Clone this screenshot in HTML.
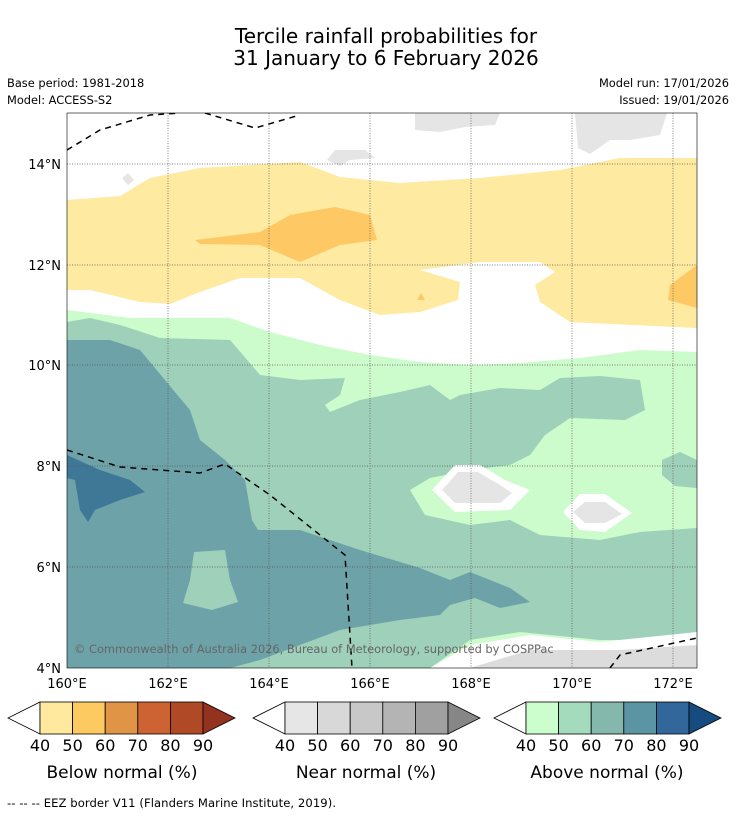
<!DOCTYPE html>
<html><head><meta charset="utf-8"><style>
body{margin:0;background:#fff;font-family:"Liberation Sans","DejaVu Sans",sans-serif}
svg{display:block}
text{font-family:"DejaVu Sans","Liberation Sans",sans-serif}
</style></head><body>
<svg width="736" height="816" viewBox="0 0 736 816">
<text x="386" y="43" font-size="20" text-anchor="middle">Tercile rainfall probabilities for</text>
<text x="386" y="65" font-size="20" text-anchor="middle">31 January to 6 February 2026</text>
<text x="7" y="87" font-size="11.4">Base period: 1981-2018</text>
<text x="7" y="104" font-size="11.4">Model: ACCESS-S2</text>
<text x="729" y="87" font-size="11.4" text-anchor="end">Model run: 17/01/2026</text>
<text x="729" y="104" font-size="11.4" text-anchor="end">Issued: 19/01/2026</text>

<defs><clipPath id="mc"><rect x="67" y="113" width="630" height="555"/></clipPath></defs>
<g clip-path="url(#mc)">
<rect x="67" y="113" width="630" height="555" fill="#fff"/>
<path fill="#feeaa0" d="M67,200 L120,196 L150,178 L200,168 L300,162 L340,177 L400,183 L480,178 L560,170 L620,158 L697,158 L697,328 L570,322 L540,302 L535,285 L555,272 L540,262 L480,262 L420,270 L460,282 L458,300 L420,312 L380,315 L340,300 L300,278 L240,278 L200,292 L170,304 L140,302 L115,296 L90,290 L67,290 Z"/>
<path fill="#fec964" d="M195,240 L260,232 L290,215 L335,207 L370,215 L377,240 L340,245 L300,262 L260,245 L200,244 Z M697,265 L670,285 L668,300 L697,308 Z M417,300 L421,293 L425,300 Z"/>
<path fill="#ccfccb" d="M67,310 L130,318 L230,318 L270,332 L320,345 L370,355 L420,362 L470,365 L520,363 L580,358 L640,350 L697,352 L697,668 L67,668 Z"/>
<path fill="#9ed0ba" d="M67,322 L90,318 L120,325 L160,338 L230,340 L260,375 L300,380 L345,378 L340,395 L325,405 L330,412 L360,400 L400,392 L430,385 L450,400 L460,395 L500,388 L540,390 L560,378 L600,376 L640,380 L645,410 L625,420 L570,418 L545,435 L530,455 L510,465 L470,470 L430,478 L410,490 L425,515 L470,525 L510,520 L540,535 L600,540 L640,532 L697,528 L697,640 L600,640 L520,632 L470,640 L430,668 L67,668 Z M662,460 L680,452 L697,460 L697,488 L675,486 L662,475 Z"/>
<path fill="#6da3a8" d="M67,340 L110,340 L140,350 L165,380 L190,410 L200,440 L225,460 L245,480 L252,520 L258,530 L300,530 L360,550 L420,568 L450,580 L470,572 L510,588 L530,602 L500,608 L475,598 L450,605 L440,615 L400,620 L340,630 L300,645 L260,660 L230,668 L67,668 Z"/>
<path fill="#9ed0ba" d="M194,552 L225,550 L230,580 L238,602 L212,610 L183,603 L190,580 Z"/>
<path fill="#3e7896" d="M67,455 L100,470 L130,480 L145,492 L120,500 L95,510 L88,522 L80,510 L75,480 L67,478 Z"/>
<path fill="#fff" d="M432,490 L455,465 L480,465 L505,480 L530,490 L510,510 L455,512 Z"/>
<path fill="#e5e5e5" d="M442,490 L458,472 L478,472 L500,485 L512,493 L500,503 L455,503 Z"/>
<path fill="#fff" d="M563,512 L580,494 L605,494 L632,513 L605,532 L580,530 Z"/>
<path fill="#e5e5e5" d="M573,512 L585,502 L605,502 L622,514 L605,523 L585,523 Z"/>
<path fill="#e5e5e5" d="M415,113 L500,113 L495,125 L465,127 L440,132 L415,130 Z"/>
<path fill="#e5e5e5" d="M575,113 L667,113 L660,135 L630,140 L610,140 L590,154 L578,148 Z"/>
<path fill="#e5e5e5" d="M327,160 L335,150 L365,150 L375,158 L350,160 L340,166 Z M122,178 L128,173 L134,180 L128,185 Z"/>
<path fill="#fff" d="M430,668 L470,645 L530,635 L600,642 L697,632 L697,668 Z"/>
<path fill="#dcdcdc" d="M470,668 L530,650 L620,650 L697,645 L697,668 Z"/>
<g stroke="#555" stroke-width="0.7" stroke-dasharray="1,1.5" fill="none">
<path d="M168,113V668M269,113V668M370,113V668M471,113V668M572,113V668M673,113V668"/>
<path d="M67,164H697M67,265H697M67,365H697M67,466H697M67,567H697"/>
</g>
<g stroke="#000" stroke-width="1.5" stroke-dasharray="6,5" fill="none">
<path d="M67,150 L100,130 L150,115 L180,113"/>
<path d="M205,113 L255,128 L300,115"/>
<path d="M67,450 L120,467 L200,473 L225,464 L270,495 L345,555 L352,668"/>
<path d="M610,668 L620,655 L697,638"/>
</g>
<text x="74" y="653" font-size="11.4" fill="#666">© Commonwealth of Australia 2026, Bureau of Meteorology, supported by COSPPac</text>
</g>
<rect x="67" y="113" width="630" height="555" fill="none" stroke="#000" stroke-width="0.6"/>

<g font-size="13">
<text x="61" y="169" text-anchor="end">14°N</text>
<text x="61" y="270" text-anchor="end">12°N</text>
<text x="61" y="370" text-anchor="end">10°N</text>
<text x="61" y="471" text-anchor="end">8°N</text>
<text x="61" y="572" text-anchor="end">6°N</text>
<text x="61" y="673" text-anchor="end">4°N</text>
</g>
<g font-size="13" text-anchor="middle">
<text x="67" y="688">160°E</text><text x="168" y="688">162°E</text><text x="269" y="688">164°E</text>
<text x="370" y="688">166°E</text><text x="471" y="688">168°E</text><text x="572" y="688">170°E</text><text x="673" y="688">172°E</text>
</g>

<g stroke="#000" stroke-width="0.8">
<polygon points="40,702 8,718 40,734" fill="#fff"/>
<rect x="40" y="702" width="32.6" height="32" fill="#fee99e"/><rect x="72.6" y="702" width="32.6" height="32" fill="#fdca62"/><rect x="105.2" y="702" width="32.6" height="32" fill="#e09445"/><rect x="137.8" y="702" width="32.6" height="32" fill="#cd6333"/><rect x="170.4" y="702" width="32.6" height="32" fill="#b04a26"/>
<polygon points="203,702 235,718 203,734" fill="#943220"/>
</g>
<g stroke="#000" stroke-width="0.8">
<polygon points="285,702 253,718 285,734" fill="#fff"/>
<rect x="285" y="702" width="32.6" height="32" fill="#e6e6e6"/><rect x="317.6" y="702" width="32.6" height="32" fill="#d8d8d8"/><rect x="350.2" y="702" width="32.6" height="32" fill="#c8c8c8"/><rect x="382.8" y="702" width="32.6" height="32" fill="#b4b4b4"/><rect x="415.4" y="702" width="32.6" height="32" fill="#a0a0a0"/>
<polygon points="448,702 480,718 448,734" fill="#868686"/>
</g>
<g stroke="#000" stroke-width="0.8">
<polygon points="526,702 494,718 526,734" fill="#fff"/>
<rect x="526" y="702" width="32.6" height="32" fill="#ccfdcc"/><rect x="558.6" y="702" width="32.6" height="32" fill="#a5dbbd"/><rect x="591.2" y="702" width="32.6" height="32" fill="#85b8ac"/><rect x="623.8" y="702" width="32.6" height="32" fill="#5b94a3"/><rect x="656.4" y="702" width="32.6" height="32" fill="#31679a"/>
<polygon points="689,702 721,718 689,734" fill="#164b80"/>
</g>
<g font-size="16" text-anchor="middle">
<text x="40" y="751">40</text><text x="72.6" y="751">50</text><text x="105.2" y="751">60</text><text x="137.8" y="751">70</text><text x="170.4" y="751">80</text><text x="203" y="751">90</text>
<text x="285" y="751">40</text><text x="317.6" y="751">50</text><text x="350.2" y="751">60</text><text x="382.8" y="751">70</text><text x="415.4" y="751">80</text><text x="448" y="751">90</text>
<text x="526" y="751">40</text><text x="558.6" y="751">50</text><text x="591.2" y="751">60</text><text x="623.8" y="751">70</text><text x="656.4" y="751">80</text><text x="689" y="751">90</text>
</g>
<text x="122" y="778" font-size="17" text-anchor="middle">Below normal (%)</text>
<text x="366" y="778" font-size="17" text-anchor="middle">Near normal (%)</text>
<text x="607" y="778" font-size="17" text-anchor="middle">Above normal (%)</text>
<text x="7" y="807" font-size="11.6" textLength="329">--  --  -- EEZ border V11 (Flanders Marine Institute, 2019).</text>
</svg>
</body></html>
